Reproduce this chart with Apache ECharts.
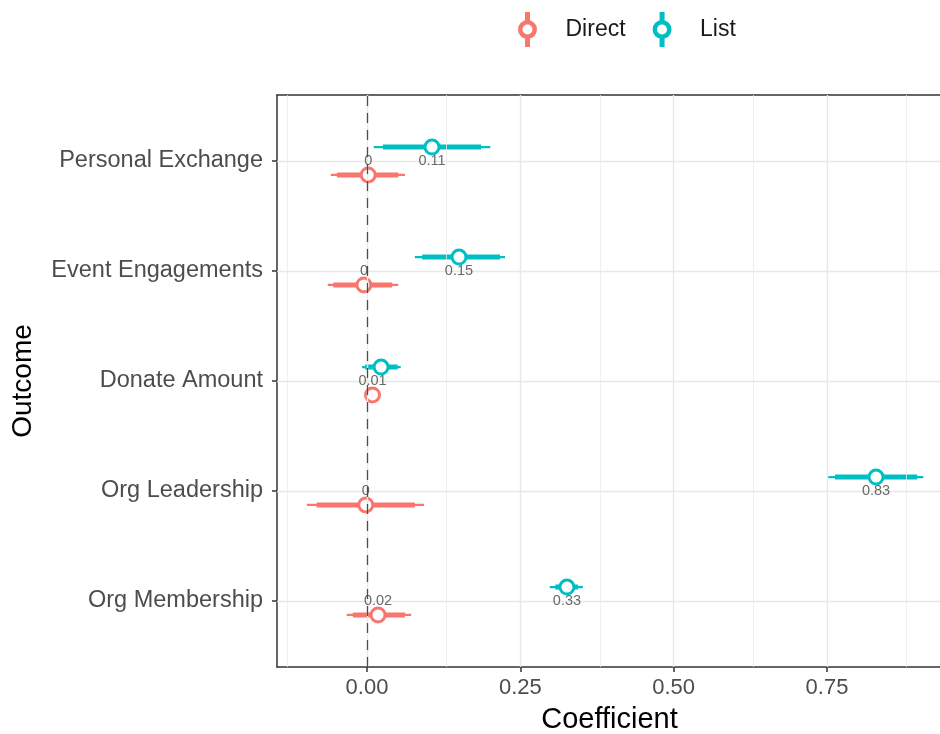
<!DOCTYPE html>
<html>
<head>
<meta charset="utf-8">
<script src="https://cdn.jsdelivr.net/npm/echarts@6/dist/echarts.min.js"></script>
<style>html,body{margin:0;padding:0;background:#fff}#c{width:940px;height:734px}</style>
</head>
<body>
<div id="c"></div>
<script>
// Categories bottom -> top (y positions 1..5)
const categories = ['Org Membership', 'Org Leadership', 'Donate Amount', 'Event Engagements', 'Personal Exchange'];
const catPos = [1, 2, 3, 4, 5];

const directEst  = [0.018, -0.002, 0.009, -0.005, 0.002];
const directLo95 = [-0.033, -0.098, -0.003, -0.064, -0.059];
const directHi95 = [0.072, 0.093, 0.021, 0.051, 0.062];
const directLo90 = [-0.023, -0.082, 0.000, -0.055, -0.049];
const directHi90 = [0.062, 0.078, 0.018, 0.041, 0.051];
const directLabels = ['0.02', '0', '0.01', '0', '0'];

const listEst  = [0.326, 0.830, 0.023, 0.150, 0.106];
const listLo95 = [0.298, 0.752, -0.008, 0.078, 0.011];
const listHi95 = [0.352, 0.907, 0.055, 0.225, 0.201];
const listLo90 = [0.307, 0.763, -0.003, 0.090, 0.026];
const listHi90 = [0.344, 0.897, 0.050, 0.217, 0.186];
const listLabels = ['0.33', '0.83', '', '0.15', '0.11'];

const xTicks = [0, 0.25, 0.5, 0.75];
const xMinor = [-0.125, 0.125, 0.375, 0.625, 0.875];
const xTickLabels = ['0.00', '0.25', '0.50', '0.75'];

const RED = '#F8766D', TEAL = '#00BFC4';
const DODGE = 0.127;
const FONT = 'Liberation Sans, Arial, Helvetica, sans-serif';

function intervalData(lo95, hi95, lo90, hi90, off) {
  return catPos.map((c, i) => [c + off, lo95[i], hi95[i], lo90[i], hi90[i]]);
}
function pointData(est, off) {
  return catPos.map((c, i) => [est[i], c + off]);
}
function labelData(est, labels) {
  return catPos.map((c, i) => ({ name: labels[i], value: [est[i], c] })).filter(d => d.name !== '');
}
function intervalSeries(name, color, data) {
  return {
    name, type: 'custom', z: 3, data,
    encode: { x: [1, 2, 3, 4], y: 0 },
    renderItem(params, api) {
      const y = api.value(0);
      const a = api.coord([api.value(1), y]), b = api.coord([api.value(2), y]);
      const c = api.coord([api.value(3), y]), d = api.coord([api.value(4), y]);
      return { type: 'group', children: [
        { type: 'line', shape: { x1: a[0], y1: a[1], x2: b[0], y2: b[1] }, style: { stroke: color, lineWidth: 2.3 } },
        { type: 'line', shape: { x1: c[0], y1: c[1], x2: d[0], y2: d[1] }, style: { stroke: color, lineWidth: 5 } }
      ]};
    }
  };
}
function pointSeries(name, color, data) {
  return {
    name, type: 'scatter', z: 4, data, symbol: 'circle', symbolSize: 14,
    itemStyle: { color: '#fff', borderColor: color, borderWidth: 3, opacity: 1 },
    emphasis: { disabled: true }
  };
}
function labelSeries(data) {
  return {
    type: 'scatter', z: 6, data, symbolSize: 0, silent: true,
    label: { show: true, position: 'inside', formatter: '{b}', color: '#444', fontSize: 14.5, fontFamily: FONT }
  };
}

const legendIcon = 'path://M7.5,0 H12.5 V8.5 H7.5 Z M7.5,26.5 H12.5 V35 H7.5 Z M0.5,17.5 A9.5,9.5 0 1,1 19.5,17.5 A9.5,9.5 0 1,1 0.5,17.5 Z M5,17.5 A5,5 0 1,0 15,17.5 A5,5 0 1,0 5,17.5 Z';

const axisLineStyle = { color: '#333', width: 1.5 };

const option = {
  animation: false,
  backgroundColor: '#fff',
  legend: {
    left: 518, top: 12, padding: 0, itemWidth: 20, itemHeight: 35, itemGap: 27,
    textStyle: { fontSize: 23, color: '#1a1a1a', fontFamily: FONT, padding: [0, 0, 0, 23] },
    data: [
      { name: 'Direct', icon: legendIcon, itemStyle: { color: RED, borderWidth: 0 } },
      { name: 'List', icon: legendIcon, itemStyle: { color: TEAL, borderWidth: 0 } }
    ]
  },
  grid: { left: 277, right: -2, top: 95, bottom: 67, show: false, outerBoundsMode: 'none', containLabel: false },
  xAxis: [{
    type: 'value', min: -0.1467, max: 0.9375,
    name: 'Coefficient', nameLocation: 'middle', nameGap: 38,
    nameTextStyle: { fontSize: 29, color: '#000', fontFamily: FONT },
    axisLine: { show: true, onZero: false, lineStyle: axisLineStyle },
    axisTick: { show: true, length: 5, lineStyle: axisLineStyle, customValues: xTicks },
    axisLabel: { customValues: xTicks, fontSize: 22, color: '#4D4D4D', fontFamily: FONT, margin: 10,
      formatter: v => { const i = xTicks.findIndex(t => Math.abs(t - v) < 1e-9); return i >= 0 ? xTickLabels[i] : ''; } },
    splitLine: { show: false }
  }, {
    type: 'value', position: 'top', min: -0.1467, max: 0.9375,
    axisLine: { show: true, onZero: false, lineStyle: axisLineStyle },
    axisTick: { show: false }, axisLabel: { show: false }, splitLine: { show: false }
  }],
  yAxis: {
    type: 'value', min: 0.4, max: 5.6,
    name: 'Outcome', nameLocation: 'middle', nameGap: 240, nameRotate: 90,
    nameTextStyle: { fontSize: 28, color: '#000', fontFamily: FONT },
    axisLine: { show: true, onZero: false, lineStyle: axisLineStyle },
    axisTick: { show: true, length: 5, lineStyle: axisLineStyle, customValues: catPos },
    axisLabel: { customValues: catPos, fontSize: 23.5, color: '#4D4D4D', fontFamily: FONT, margin: 14,
      formatter: v => { const i = catPos.indexOf(Math.round(v)); return i >= 0 ? categories[i] : ''; } },
    splitLine: { show: false }
  },
  series: [
    {
      type: 'scatter', z: 1, data: [], silent: true,
      markLine: {
        silent: true, symbol: 'none', label: { show: false }, animation: false,
        data: [
          ...xMinor.map(v => ({ xAxis: v, lineStyle: { color: '#EBEBEB', width: 0.8, type: 'solid' } })),
          ...xTicks.map(v => ({ xAxis: v, lineStyle: { color: '#E8E8E8', width: 1.4, type: 'solid' } })),
          ...catPos.map(v => ({ yAxis: v, lineStyle: { color: '#E8E8E8', width: 1.4, type: 'solid' } }))
        ]
      }
    },
    {
      type: 'scatter', z: 2, data: [], silent: true,
      markLine: {
        silent: true, symbol: 'none', label: { show: false }, animation: false,
        data: [{ xAxis: 0, lineStyle: { color: '#4D4D4D', width: 1.3, type: [10, 7] } }]
      }
    },
    intervalSeries('Direct', RED, intervalData(directLo95, directHi95, directLo90, directHi90, -DODGE)),
    intervalSeries('List', TEAL, intervalData(listLo95, listHi95, listLo90, listHi90, DODGE)),
    pointSeries('Direct', RED, pointData(directEst, -DODGE)),
    pointSeries('List', TEAL, pointData(listEst, DODGE)),
    labelSeries(labelData(directEst, directLabels)),
    labelSeries(labelData(listEst, listLabels))
  ]
};

const chart = echarts.init(document.getElementById('c'), null, { renderer: 'canvas' });
chart.setOption(option);
</script>
</body>
</html>
